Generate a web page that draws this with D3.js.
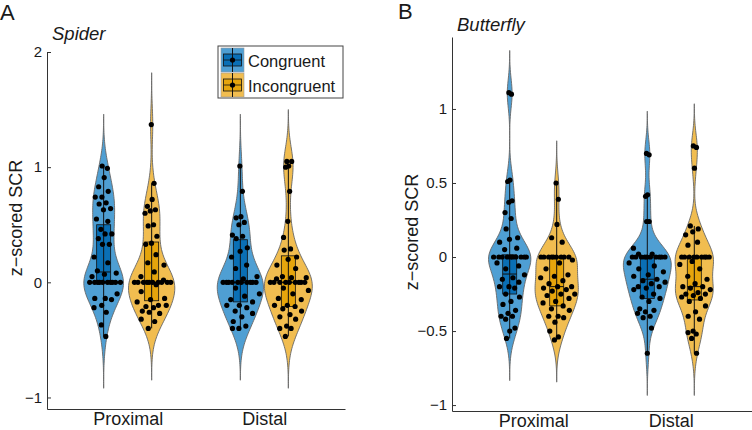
<!DOCTYPE html>
<html>
<head>
<meta charset="utf-8">
<script src="https://cdn.jsdelivr.net/npm/d3@7"></script>
<style>
body { margin: 0; background: #fff; }
text { font-family: "Liberation Sans", Arial, sans-serif; fill: #1a1a1a; }
</style>
</head>
<body>
<svg id="chart" width="752" height="430"></svg>
<script>
const categories = ["Proximal", "Distal"];
const conditions = ["Congruent", "Incongruent"];

// z-scored SCR per participant
// Spider
const spiderProxCong = [1.01, 0.99, 0.91, 0.83, 0.79, 0.74, 0.74, 0.69, 0.68, 0.64, 0.63, 0.55, 0.53, 0.46, 0.42, 0.42, 0.38, 0.33, 0.33, 0.22, 0.17, 0.1, 0.08, 0.07, 0.05,
  0, 0, 0, 0, 0, 0, 0, 0, 0, 0, -0.1, -0.14, -0.14, -0.15, -0.2, -0.22, -0.26, -0.37, -0.47];
const spiderProxIncong = [1.37, 0.86, 0.72, 0.66, 0.63, 0.62, 0.6, 0.5, 0.49, 0.4, 0.34, 0.33, 0.24, 0.17, 0.15, 0.09, 0.05, 0.02,
  0, 0, 0, 0, 0, 0, 0, 0, 0, 0, -0.02, -0.08, -0.14, -0.15, -0.17, -0.2, -0.21, -0.2, -0.22, -0.25, -0.27, -0.26, -0.32, -0.34, -0.4];
const spiderDistCong = [1.01, 0.79, 0.57, 0.56, 0.52, 0.5, 0.41, 0.4, 0.38, 0.3, 0.27, 0.22, 0.15, 0.12, 0.05, 0.03,
  0, 0, 0, 0, 0, 0, 0, 0, 0, 0, -0.05, -0.1, -0.12, -0.15, -0.17, -0.2, -0.2, -0.22, -0.25, -0.27, -0.3, -0.34, -0.38, -0.4, -0.4];
const spiderDistIncong = [1.05, 1.05, 1.01, 1.0, 0.79, 0.53, 0.39, 0.29, 0.28, 0.22, 0.2, 0.15, 0.12, 0.05, 0.04, 0.04, 0.03,
  0, 0, 0, 0, 0, 0, 0, 0, 0, -0.05, -0.07, -0.1, -0.14, -0.15, -0.2, -0.2, -0.21, -0.23, -0.25, -0.28, -0.3, -0.32, -0.38, -0.4, -0.4, -0.47];

// Butterfly
const butterflyProxCong = [1.11, 1.1, 0.52, 0.51, 0.38, 0.37, 0.3, 0.26, 0.19, 0.13, 0.12, 0.1, 0.06, 0.05,
  0, 0, 0, 0, 0, 0, 0, 0, 0, 0, -0.04, -0.06, -0.08, -0.12, -0.14, -0.15, -0.17, -0.2, -0.2, -0.21, -0.25, -0.27, -0.3, -0.32, -0.36, -0.38, -0.4, -0.4, -0.42, -0.48, -0.5, -0.55];
const butterflyProxIncong = [0.5, 0.39, 0.22, 0.13, 0.1,
  0, 0, 0, 0, 0, 0, 0, 0, 0, -0.02, -0.04, -0.08, -0.12, -0.13, -0.14, -0.16, -0.18, -0.2, -0.2, -0.21, -0.22, -0.23, -0.25, -0.25, -0.26, -0.28, -0.3, -0.31, -0.33, -0.35, -0.36, -0.4, -0.4, -0.41, -0.44, -0.5, -0.54, -0.56];
const butterflyDistCong = [0.7, 0.69, 0.42, 0.41, 0.24, 0.24, 0.06, 0.02, 0.02,
  0, 0, 0, 0, 0, 0, 0, 0, 0, 0, -0.04, -0.06, -0.08, -0.1, -0.12, -0.13, -0.15, -0.16, -0.17, -0.18, -0.2, -0.2, -0.21, -0.22, -0.25, -0.27, -0.28, -0.3, -0.35, -0.36, -0.37, -0.38, -0.4, -0.41, -0.48, -0.65];
const butterflyDistIncong = [0.75, 0.74, 0.6, 0.21, 0.19, 0.17, 0.15, 0.1, 0.08,
  0, 0, 0, 0, 0, 0, 0, 0, 0, -0.03, -0.05, -0.08, -0.13, -0.15, -0.18, -0.2, -0.2, -0.21, -0.22, -0.24, -0.25, -0.25, -0.26, -0.27, -0.28, -0.3, -0.33, -0.37, -0.4, -0.42, -0.5, -0.51, -0.52, -0.55, -0.65];

// box stats, order: prox-cong, prox-incong, dist-cong, dist-incong
const spiderQ1 = [0, -0.16, -0.17, -0.21];
const spiderMedian = [0.09, 0, 0, 0];
const spiderQ3 = [0.5, 0.35, 0.37, 0.23];
const spiderWhiskLo = [-0.47, -0.4, -0.4, -0.47];
const spiderWhiskHi = [1.01, 0.86, 1.01, 1.01];

const butterflyQ1 = [-0.25, -0.33, -0.28, -0.29];
const butterflyMedian = [-0.115, -0.2, -0.15, -0.2];
const butterflyQ3 = [0.015, 0, 0, 0];
const butterflyWhiskLo = [-0.55, -0.56, -0.65, -0.65];
const butterflyWhiskHi = [0.52, 0.5, 0.42, 0.21];

const spiderTicks = [-1, 0, 1, 2];
const butterflyTicks = [-1, -0.5, 0, 0.5, 1];

const violinFill = ["#4f9fd3", "#f1bd50"];
const boxFill = ["#0a6fb5", "#e6a50c"];

const svg = d3.select("#chart");

function gauss(u) { return Math.exp(-0.5 * u * u) / Math.sqrt(2 * Math.PI); }
function density(vals, h, y) { return d3.mean(vals, v => gauss((y - v) / h)) / h; }

function drawPanel(p) {
  const g = svg.append("g");
  const y = d3.scaleLinear().domain(p.domain).range([p.bottom, p.top]);
  const x = d3.scalePoint().domain(categories).range([p.left, p.right]).padding(0.59);

  const groups = [];
  categories.forEach((c, ci) => conditions.forEach((k, ki) => {
    groups.push({ cat: c, cond: ki, vals: p.series[ci * 2 + ki], idx: ci * 2 + ki });
  }));

  groups.forEach(gr => {
    const lo = d3.min(gr.vals) - 3 * p.bw, hi = d3.max(gr.vals) + 3 * p.bw;
    gr.kde = d3.range(121).map(i => {
      const v = lo + (hi - lo) * i / 120;
      return [v, density(gr.vals, p.bw, v)];
    });
  });
  const maxD = d3.max(groups, gr => d3.max(gr.kde, d => d[1]));
  const w = d3.scaleLinear().domain([0, maxD]).range([0, p.maxHalf]);

  groups.forEach(gr => {
    const cx = x(gr.cat) + (gr.cond === 0 ? -p.offset : p.offset);
    const area = d3.area()
      .curve(d3.curveBasis)
      .x0(d => cx - w(d[1])).x1(d => cx + w(d[1]))
      .y(d => y(d[0]));
    g.append("path").attr("d", area(gr.kde))
      .attr("fill", violinFill[gr.cond]).attr("stroke", "#666").attr("stroke-width", 0.9);

    const i = gr.idx;
    g.append("rect")
      .attr("x", cx - 7).attr("width", 14)
      .attr("y", y(p.q3[i])).attr("height", y(p.q1[i]) - y(p.q3[i]))
      .attr("fill", boxFill[gr.cond]).attr("stroke", "#111").attr("stroke-width", 0.8);
    g.append("line")
      .attr("x1", cx).attr("x2", cx)
      .attr("y1", y(p.lo[i])).attr("y2", y(p.hi[i]))
      .attr("stroke", "#111").attr("stroke-width", 1);
    g.append("line")
      .attr("x1", cx - 7).attr("x2", cx + 7)
      .attr("y1", y(p.med[i])).attr("y2", y(p.med[i]))
      .attr("stroke", "#111").attr("stroke-width", 1);

    g.selectAll(null).data(gr.vals).enter().append("circle")
      .attr("cx", (v, j) => {
        const f = ((j * 0.618034 + 0.31) % 1) * 2 - 1;
        return cx + f * w(density(gr.vals, p.bw, v)) * 0.85;
      })
      .attr("cy", v => y(v))
      .attr("r", 2.6)
      .attr("fill", "#000");
  });

  // axes
  const ya = g.append("g").attr("transform", `translate(${p.left},0)`)
    .call(d3.axisLeft(y).tickValues(p.ticks).tickFormat(d3.format("~g"))
      .tickSizeInner(-4).tickSizeOuter(0).tickPadding(5));
  ya.selectAll("text").style("font-size", "15px");
  ya.selectAll("line, path").attr("stroke", "#333");

  const xa = g.append("g").attr("transform", `translate(0,${p.bottom})`)
    .call(d3.axisBottom(x).tickSize(0).tickPadding(3.5));
  xa.selectAll("text").style("font-size", "18px");
  xa.select("path").attr("stroke", "#333");

  g.append("text")
    .attr("transform", `translate(${p.ylabX},${p.ylabY}) rotate(-90)`)
    .attr("text-anchor", "middle").style("font-size", "18px")
    .text("z\u2212scored SCR");
  g.append("text").attr("x", p.titleX).attr("y", p.titleY)
    .style("font-size", "18.5px").style("font-style", "italic").text(p.title);
  g.append("text").attr("x", p.letterX).attr("y", p.letterY)
    .style("font-size", "22px").text(p.letter);
}

drawPanel({
  series: [spiderProxCong, spiderProxIncong, spiderDistCong, spiderDistIncong],
  q1: spiderQ1, med: spiderMedian, q3: spiderQ3, lo: spiderWhiskLo, hi: spiderWhiskHi,
  domain: [-1.1, 2], ticks: spiderTicks,
  left: 47, right: 345, top: 52, bottom: 409,
  bw: 0.15, maxHalf: 24, offset: 24,
  ylabX: 22, ylabY: 218, title: "Spider", titleX: 52, titleY: 40,
  letter: "A", letterX: 0, letterY: 20
});

drawPanel({
  series: [butterflyProxCong, butterflyProxIncong, butterflyDistCong, butterflyDistIncong],
  q1: butterflyQ1, med: butterflyMedian, q3: butterflyQ3, lo: butterflyWhiskLo, hi: butterflyWhiskHi,
  domain: [-1.04, 1.486], ticks: butterflyTicks,
  left: 452, right: 752, top: 37, bottom: 411,
  bw: 0.095, maxHalf: 24, offset: 23.5,
  ylabX: 418, ylabY: 232, title: "Butterfly", titleX: 457, titleY: 31,
  letter: "B", letterX: 398, letterY: 19
});

// legend
const leg = svg.append("g");
leg.append("rect").attr("x", 218).attr("y", 46).attr("width", 125).attr("height", 52)
  .attr("fill", "#fff").attr("stroke", "#444").attr("stroke-width", 1);
conditions.forEach((c, i) => {
  const gy = 48 + i * 25;
  const it = leg.append("g");
  it.append("rect").attr("x", 221).attr("y", gy).attr("width", 23).attr("height", 24)
    .attr("fill", violinFill[i]).attr("stroke", "#999").attr("stroke-width", 0.6);
  it.append("rect").attr("x", 223.5).attr("y", gy + 6).attr("width", 18).attr("height", 12)
    .attr("fill", boxFill[i]).attr("stroke", "#111").attr("stroke-width", 0.8);
  it.append("line").attr("x1", 232.5).attr("x2", 232.5).attr("y1", gy).attr("y2", gy + 24)
    .attr("stroke", "#111").attr("stroke-width", 1);
  it.append("line").attr("x1", 223.5).attr("x2", 241.5).attr("y1", gy + 12).attr("y2", gy + 12)
    .attr("stroke", "#111").attr("stroke-width", 0.8);
  it.append("circle").attr("cx", 232.5).attr("cy", gy + 12).attr("r", 2.6).attr("fill", "#000");
  it.append("text").attr("x", 248).attr("y", gy + 18.5).style("font-size", "16.5px").text(c);
});
</script>
</body>
</html>
